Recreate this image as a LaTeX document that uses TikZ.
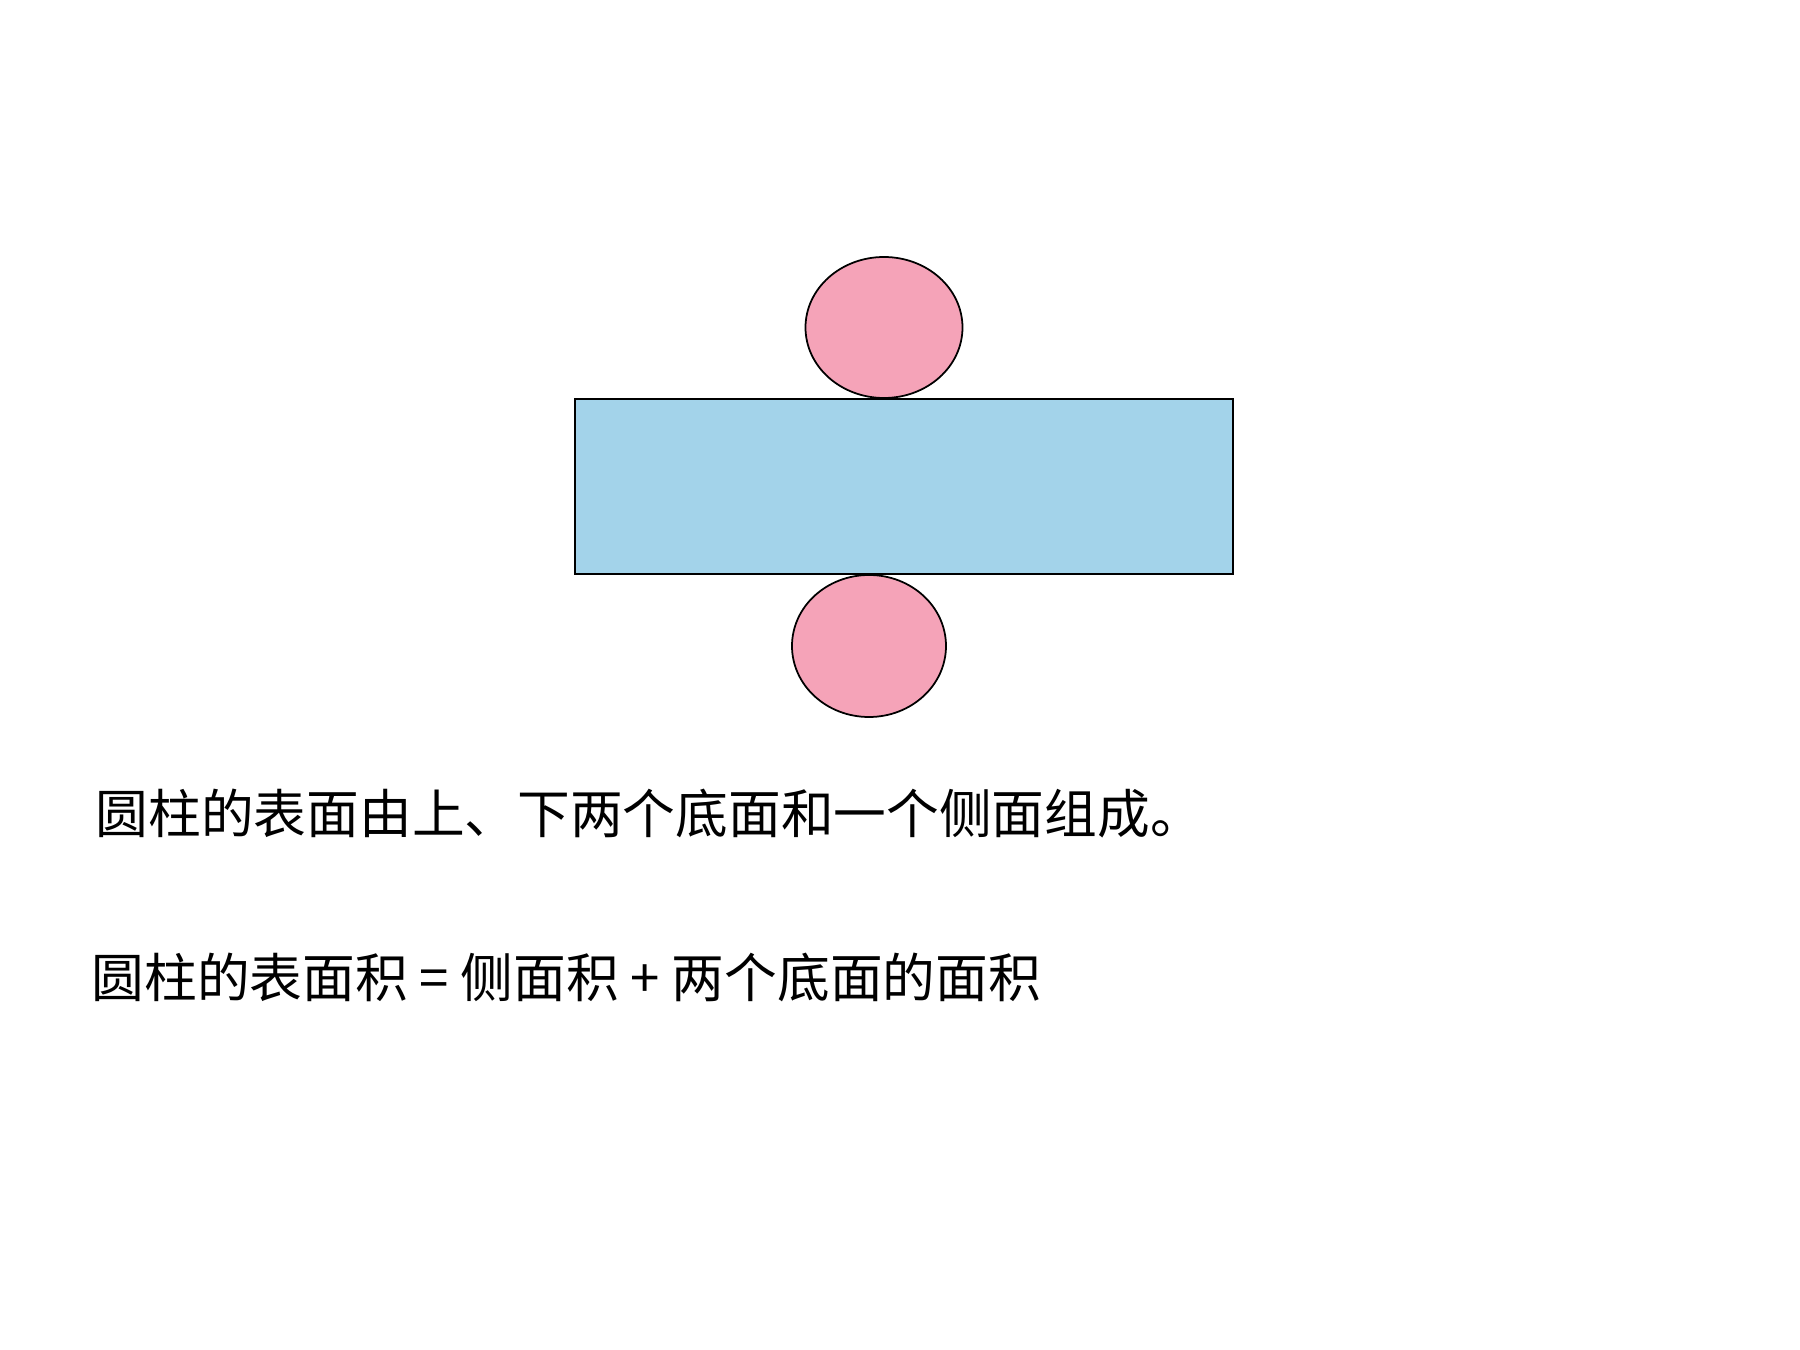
\documentclass[tikz,border=0pt]{standalone}
\usepackage{fontspec}
\setmainfont{Noto Sans CJK SC}
\usetikzlibrary{shapes.geometric}
\definecolor{basepink}{RGB}{245,163,184}
\definecolor{sideblue}{RGB}{163,211,234}
\tikzset{
    basecircle/.style={ellipse,draw=black,fill=basepink,line width=0.5pt,inner sep=0pt},
    formula/.style={anchor=base west,inner sep=0pt,font=\fontsize{15pt}{18pt}\selectfont}
}
\begin{document}
\begin{tikzpicture}
            \useasboundingbox (0,0) rectangle (18,13.5);
            \node[draw=black,fill=sideblue,line width=0.5pt,minimum width=6.58cm,minimum height=1.75cm,inner sep=0pt] (side) at (9.04,8.635) {};
            \node[basecircle,minimum width=1.57cm,minimum height=1.41cm] (top) at (8.84,10.225) {};
            \node[basecircle,minimum width=1.54cm,minimum height=1.42cm] (bottom) at (8.69,7.04) {};
            \node[formula] (parts) at (0.95,5.16) {圆柱的表面由上、下两个底面和一个侧面组成。};
            \node[formula] (area) at (0.91,3.52) {圆柱的表面积 = 侧面积 + 两个底面的面积};
    \end{tikzpicture}
\end{document}
